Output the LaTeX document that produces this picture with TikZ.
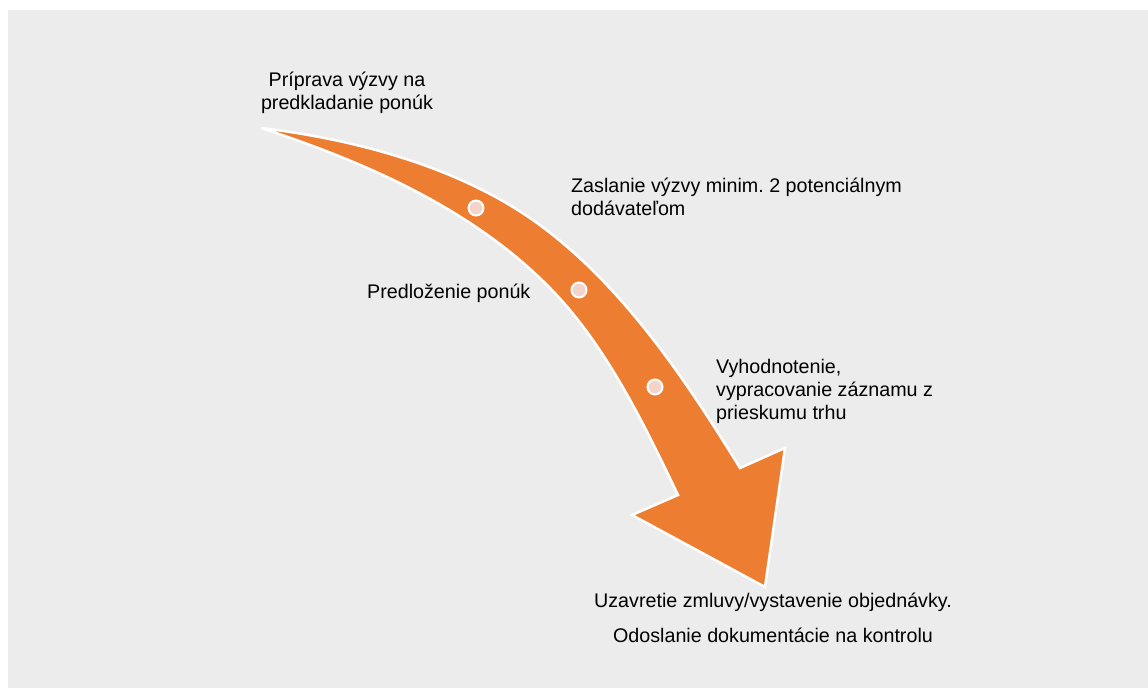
\documentclass[tikz,border=0pt]{standalone}
\usepackage{fontspec}
\setmainfont{Liberation Sans}
\usepackage{tikz}
\usetikzlibrary{backgrounds}
\definecolor{panelgray}{HTML}{ECECEC}
\definecolor{arroworange}{HTML}{ED7D31}
\definecolor{dotpink}{HTML}{F4D4C8}
\frenchspacing
\begin{document}
\begin{tikzpicture}[x=1pt,y=-1pt,
  steplabel/.style={inner sep=0pt,text=black,font=\fontsize{19.7}{23}\selectfont},
  stepdot/.style={circle,draw=white,line width=2pt,fill=dotpink,minimum size=15pt,inner sep=0pt}]
\useasboundingbox (0,0) rectangle (1148,688);
\fill[panelgray] (8,10) rectangle (1148,688);
\filldraw[fill=arroworange,draw=white,line width=2.5pt,line join=miter]
  (261,128) .. controls (356,139.4) and (460,167.4) .. (537,223)
  .. controls (622,284.4) and (685,378.8) .. (740,468)
  -- (785,448) -- (765,587) -- (632,515) -- (678,495)
  .. controls (643.6,423) and (606,345.2) .. (550,288)
  .. controls (473,209.4) and (365.5,162) .. (261,128)
  -- cycle;
\node[stepdot] (dot1) at (476,208) {};
\node[stepdot] (dot2) at (579,290) {};
\node[stepdot] (dot3) at (655,387) {};
\node[steplabel,align=center,anchor=base] (prep) at (347,109) {Príprava výzvy na\\predkladanie ponúk};
\node[steplabel,align=left,anchor=base west] (send) at (571,215) {Zaslanie výzvy minim. 2 potenciálnym\\dodávateľom};
\node[steplabel,anchor=base west] (offers) at (367,298) {Predloženie ponúk};
\node[steplabel,align=left,anchor=base west] (eval) at (716,419) {Vyhodnotenie,\\vypracovanie záznamu z\\prieskumu trhu};
\node[steplabel,align=center,anchor=base] (close) at (773,642) {Uzavretie zmluvy/vystavenie objednávky.\\[12pt]Odoslanie dokumentácie na kontrolu};
\end{tikzpicture}
\end{document}
